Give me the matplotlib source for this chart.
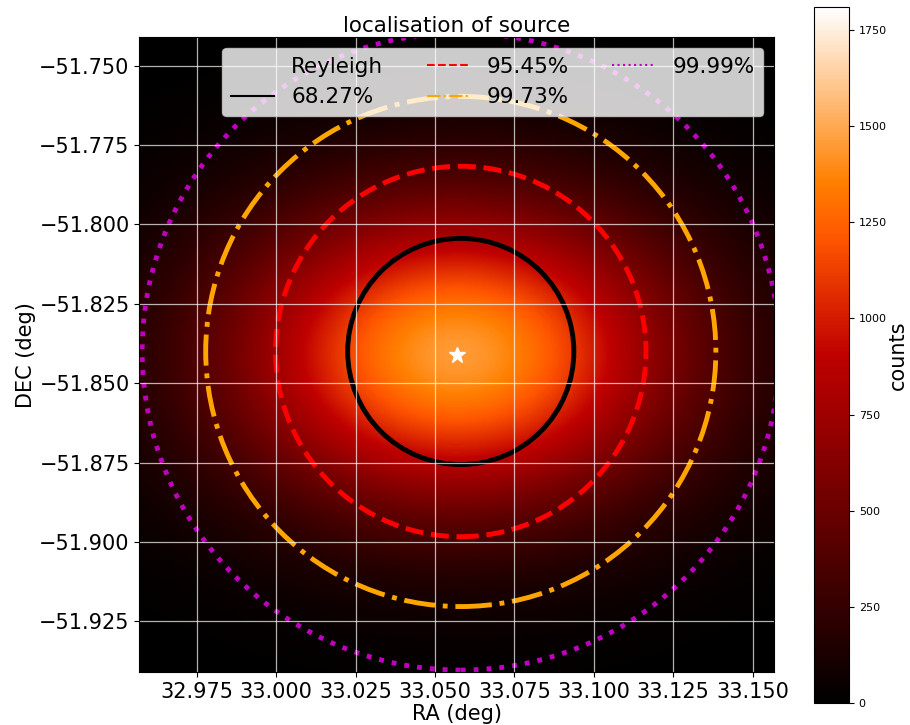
import numpy as np
import matplotlib
matplotlib.use('Agg')
import matplotlib.pyplot as plt
from matplotlib.patches import Ellipse
from matplotlib.lines import Line2D

# source position and field of view (deg)
SRC_RA = 33.0568
SRC_DEC = -51.8410
HALF_FOV = 0.0999

# centre of the confidence circles (deg)
CIRC_RA = 33.0581
CIRC_DEC = -51.8400

# confidence levels, radii (deg) and styles
levels = ['68.27%', '95.45%', '99.73%', '99.99%']
radii = [0.0356, 0.0583, 0.0803, 0.1003]
colors = ['k', 'r', 'orange', 'm']
styles = ['-', '--', '-.', ':']

# counts map: elliptical blob
PEAK_COUNTS = 1450
SIGMA_RA = 0.050
SIGMA_DEC = 0.034
VMAX = 1810

xticks = [32.975, 33.000, 33.025, 33.050, 33.075, 33.100, 33.125, 33.150]
yticks = [-51.750, -51.775, -51.800, -51.825, -51.850, -51.875, -51.900, -51.925]
cbar_ticks = [0, 250, 500, 750, 1000, 1250, 1500, 1750]

extent = [SRC_RA - HALF_FOV, SRC_RA + HALF_FOV, SRC_DEC - HALF_FOV, SRC_DEC + HALF_FOV]
ra = np.linspace(extent[0], extent[1], 300)
dec = np.linspace(extent[2], extent[3], 300)
RA, DEC = np.meshgrid(ra, dec)
counts = PEAK_COUNTS * np.exp(-0.5 * (((RA - SRC_RA) / SIGMA_RA) ** 2 + ((DEC - SRC_DEC) / SIGMA_DEC) ** 2))

fig = plt.figure(figsize=(9.1, 7.25), dpi=100)
ax = fig.add_axes([139.3 / 910, 53 / 725, 634.7 / 910, 634.7 / 725])
cax = fig.add_axes([814 / 910, 22 / 725, 35 / 910, 696 / 725])

im = ax.imshow(counts, origin='lower', extent=extent, cmap='gist_heat',
               vmin=0, vmax=VMAX, aspect='auto', interpolation='bilinear')
ax.grid(True, color='white', alpha=0.7, lw=0.9)

for r, c, s in zip(radii, colors, styles):
    ax.add_patch(Ellipse((CIRC_RA, CIRC_DEC), 2 * r, 2 * r, fill=False,
                         edgecolor=c, linestyle=s, lw=3.5))
ax.plot(SRC_RA, SRC_DEC, marker='*', color='white', ms=12, ls='none')

ax.set_xlim(extent[0], extent[1])
ax.set_ylim(extent[2], extent[3])
ax.set_xticks(xticks)
ax.set_yticks(yticks)
ax.set_xticklabels([f'{v:.3f}' for v in xticks])
ax.set_yticklabels([f'{v:.3f}'.replace('-', '\u2212') for v in yticks])
ax.tick_params(labelsize=15)
ax.set_xlabel('RA (deg)', fontsize=15, labelpad=2)
ax.set_ylabel('DEC (deg)', fontsize=15, labelpad=2)
ax.set_title('localisation of source', fontsize=15.5, pad=4)

handles = [Line2D([], [], ls='none', label='Reyleigh')]
for lab, c, s in zip(levels, colors, styles):
    handles.append(Line2D([], [], color=c, ls=s, lw=1.5, label=lab))
ax.legend(handles=handles, ncol=3, loc='upper right', fontsize=15.5)

cb = fig.colorbar(im, cax=cax, ticks=cbar_ticks)
cb.ax.tick_params(labelsize=8)
cb.set_label('counts', fontsize=15, labelpad=1)

fig.savefig('out.png', dpi=100)
